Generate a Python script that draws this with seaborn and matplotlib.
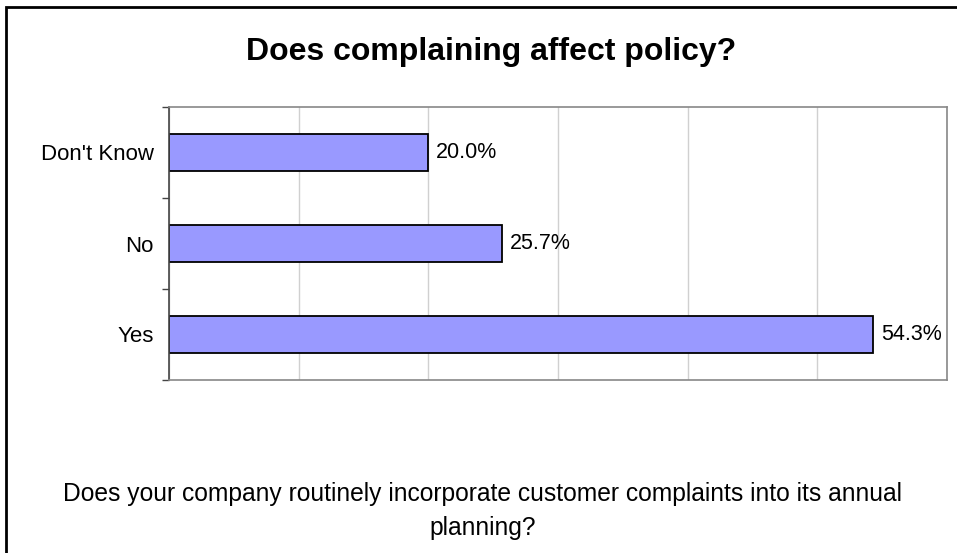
import matplotlib
matplotlib.use("Agg")
import matplotlib.pyplot as plt
import seaborn as sns
import pandas as pd
from matplotlib.patches import Rectangle

categories = ["Don't Know", "No", "Yes"]
percent = [20.0, 25.7, 54.3]
title = "Does complaining affect policy?"
caption = "Does your company routinely incorporate customer complaints into its annual\nplanning?"

sns.set_style("white")
plt.rcParams['font.family'] = ['Liberation Sans', 'DejaVu Sans']
plt.rcParams['text.color'] = 'black'
plt.rcParams['ytick.labelcolor'] = 'black'

df = pd.DataFrame({"answer": categories, "pct": percent})

fig = plt.figure(figsize=(9.57, 5.53), dpi=100)
ax = fig.add_axes([169 / 957, 1 - 380 / 553, (947 - 169) / 957, (380 - 107) / 553])

sns.barplot(data=df, x="pct", y="answer", order=categories, orient="h",
            color="#9999FF", saturation=1, width=0.41,
            edgecolor="black", linewidth=1.3, ax=ax)

ax.set_xlim(0, 60)
ax.set_ylim(2.5, -0.5)
ax.set_xticks(range(0, 61, 10))
ax.set_xticklabels([])
ax.tick_params(axis="x", length=0)
ax.xaxis.grid(True, color="#d0d0d0", linewidth=1)
ax.set_axisbelow(True)

# category labels sit between the boundary ticks
ax.set_yticks([-0.5, 0.5, 1.5, 2.5])
ax.set_yticklabels([])
ax.set_yticks(range(len(categories)), minor=True)
ax.set_yticklabels(categories, minor=True, fontsize=16, color="black")
ax.tick_params(axis="y", which="major", length=5, width=1, color="#444444", direction="out", left=True)
ax.tick_params(axis="y", which="minor", length=0, pad=11)

ax.set_xlabel("")
ax.set_ylabel("")
for side in ["top", "right", "bottom"]:
    ax.spines[side].set_color("#888888")
    ax.spines[side].set_linewidth(1.2)
ax.spines["left"].set_color("#444444")
ax.spines["left"].set_linewidth(1.2)

for i, v in enumerate(percent):
    ax.text(v + 0.6, i, f"{v:.1f}%", va="center", ha="left", fontsize=15.5, color="black")

fig.text(491 / 957, 1 - 52 / 553, title, ha="center", va="center",
         fontsize=23, fontweight="bold", color="black")
fig.text(483 / 957, 1 - 511 / 553, caption, ha="center", va="center",
         fontsize=17.7, linespacing=1.5, color="black")

fig.patches.append(Rectangle((6 / 957, -0.1), 1.2, 1 - 7 / 553 + 0.1,
                             transform=fig.transFigure, fill=False,
                             edgecolor="black", linewidth=2))

fig.savefig("out.png", dpi=100)
